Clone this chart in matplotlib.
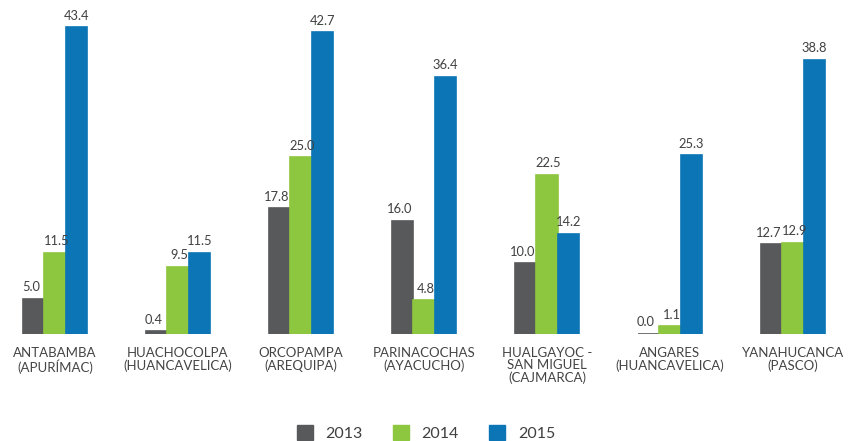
import matplotlib
matplotlib.use("Agg")
import matplotlib.pyplot as plt
import numpy as np

categories = ["ANTABAMBA\n(APURÍMAC)", "HUACHOCOLPA\n(HUANCAVELICA)", "ORCOPAMPA\n(AREQUIPA)",
              "PARINACOCHAS\n(AYACUCHO)", "HUALGAYOC -\nSAN MIGUEL\n(CAJMARCA)",
              "ANGARES\n(HUANCAVELICA)", "YANAHUCANCA\n(PASCO)"]
series_names = ["2013", "2014", "2015"]
v2013 = [5.0, 0.4, 17.8, 16.0, 10.0, 0.0, 12.7]
v2014 = [11.5, 9.5, 25.0, 4.8, 22.5, 1.1, 12.9]
v2015 = [43.4, 11.5, 42.7, 36.4, 14.2, 25.3, 38.8]
colors = ["#58595B", "#8DC63F", "#0C75B6"]

plt.rcParams['font.family'] = ['Lato', 'DejaVu Sans']

fig = plt.figure(figsize=(8.52, 4.41), dpi=100)
ax = fig.add_axes([0.0068, 0.2426, 0.9817, 0.737])
x = np.arange(len(categories))
w = 0.175
label_dx = [-1.8, 1.2, 0.0]
for i, (vals, c, name) in enumerate(zip([v2013, v2014, v2015], colors, series_names)):
    pos = x + (i - 1) * w
    ax.bar(pos, vals, width=w, color=c, edgecolor=c, linewidth=1.2, label=name)
    for p, v in zip(pos, vals):
        ax.annotate(f"{v:.1f}", (p, v), xytext=(label_dx[i], 4), textcoords="offset points",
                    ha="center", va="bottom", fontsize=9.3, color="#404040")

ax.set_xlim(-0.4, 6.4)
ax.set_ylim(0, 46)
ax.axis("off")

for xi, lab in zip(x, categories):
    ax.text(xi, -1.9, lab, ha="center", va="top", fontsize=9.5, color="#444444", linespacing=1.0)

handles = [plt.Rectangle((0, 0), 1, 1, color=c) for c in colors]
fig.legend(handles, series_names, loc="center", bbox_to_anchor=(0.5, 0.018), ncol=3, frameon=False,
           fontsize=11.5, handlelength=1.0, handleheight=1.0, columnspacing=1.9, handletextpad=0.8,
           labelcolor="#404040")

fig.savefig("out.png", dpi=100)
